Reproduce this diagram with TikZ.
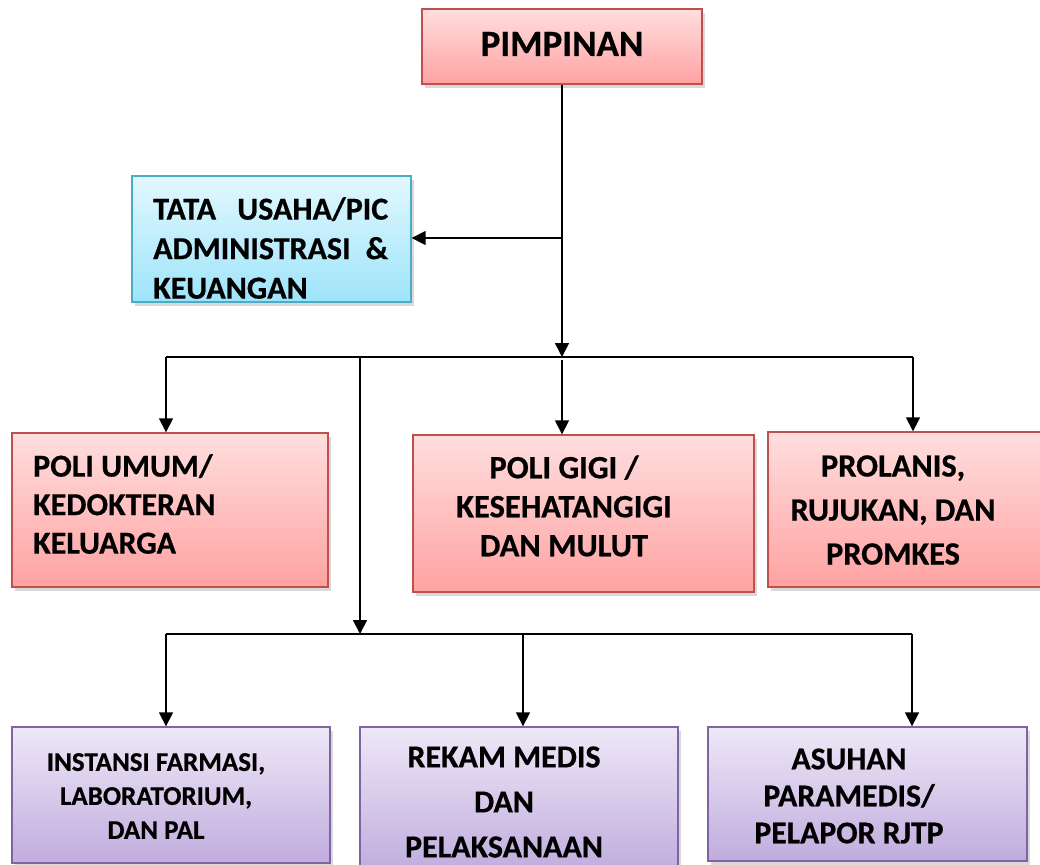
\documentclass[tikz,border=0pt]{standalone}
\usepackage{fontspec}
\setmainfont[BoldFeatures={FakeBold=0.6}]{Carlito}
\usetikzlibrary{arrows.meta,shadows}
\definecolor{pinkT}{RGB}{255,222,222}
\definecolor{pinkB}{RGB}{255,162,162}
\definecolor{redB}{RGB}{192,80,77}
\definecolor{cyanT}{RGB}{226,248,254}
\definecolor{cyanB}{RGB}{158,228,250}
\definecolor{cyanD}{RGB}{75,172,198}
\definecolor{purT}{RGB}{238,232,247}
\definecolor{purB}{RGB}{192,172,222}
\definecolor{purD}{RGB}{128,100,162}
\begin{document}
\begin{tikzpicture}[x=1pt,y=-1pt,
  box/.style={draw, line width=1.4pt, inner sep=0pt,
    drop shadow={opacity=0.3, shadow xshift=3pt, shadow yshift=-4pt}},
  pinkbox/.style={box, draw=redB, top color=pinkT, bottom color=pinkB},
  cyanbox/.style={box, draw=cyanD, top color=cyanT, bottom color=cyanB},
  purbox/.style={box, draw=purD, top color=purT, bottom color=purB},
  lbl/.style={inner sep=0pt},
  ln/.style={line width=1.7pt, black},
  arr/.style={ln, -{Triangle[length=14pt,width=14pt]}}]
\useasboundingbox (0,0) rectangle (1040,864);
% boxes
\node[pinkbox, minimum width=280pt, minimum height=75pt] (pim) at (562,46.5) {};
\node[cyanbox, minimum width=279pt, minimum height=126pt] (tu) at (271.5,239) {};
\node[pinkbox, minimum width=316pt, minimum height=154pt] (umum) at (170,510) {};
\node[pinkbox, minimum width=341pt, minimum height=157pt] (gigi) at (583.5,513.5) {};
\node[pinkbox, minimum width=277pt, minimum height=155pt] (prol) at (906.5,509.5) {};
\node[purbox, minimum width=318pt, minimum height=136pt] (inst) at (171,795) {};
\node[purbox, minimum width=318pt, minimum height=145pt] (rekam) at (519,799.5) {};
\node[purbox, minimum width=319pt, minimum height=134pt] (asuh) at (867.5,794) {};
% texts
\node[lbl, font=\fontsize{37}{40}\selectfont\bfseries] (pimt) at (562,44) {PIMPINAN};
\node[lbl, anchor=west, align=left, font=\fontsize{32}{39.5}\selectfont\bfseries] (tut) at (153,248)
  {\makebox[235pt][l]{TATA\hfill USAHA/PIC}\\\makebox[235pt][l]{ADMINISTRASI\hfill\&}\\KEUANGAN};
\node[lbl, anchor=west, align=left, font=\fontsize{32}{38.5}\selectfont\bfseries] (umumt) at (33,504)
  {POLI UMUM/\\KEDOKTERAN\\KELUARGA};
\node[lbl, align=center, font=\fontsize{32.5}{39}\selectfont\bfseries] (gigit) at (564,506)
  {POLI GIGI /\\KESEHATANGIGI\\DAN MULUT};
\node[lbl, align=center, font=\fontsize{32.4}{44}\selectfont\bfseries] (prolt) at (893,510)
  {PROLANIS,\\RUJUKAN, DAN\\PROMKES};
\node[lbl, align=center, font=\fontsize{27}{34}\selectfont\bfseries] (instt) at (156,796)
  {INSTANSI FARMASI,\\LABORATORIUM,\\DAN PAL};
\node[lbl, align=center, font=\fontsize{32}{45}\selectfont\bfseries] (rekamt) at (504,802)
  {REKAM MEDIS\\DAN\\PELAKSANAAN};
\node[lbl, align=center, font=\fontsize{31.7}{37}\selectfont\bfseries] (asuht) at (849,796)
  {ASUHAN\\PARAMEDIS/\\PELAPOR RJTP};
% connectors
\coordinate (j1) at (562,357);
\coordinate (jt) at (562,238);
\coordinate (bL) at (166,357);
\coordinate (bR) at (913,357);
\coordinate (m1) at (360,357);
\coordinate (m2) at (360,634);
\coordinate (cL) at (166,634);
\coordinate (cM) at (523,634);
\coordinate (cR) at (912,634);
\draw[arr] (pim.south) -- (j1);
\draw[arr] (jt) -- (tu.east |- jt);
\draw[ln] (bL) -- (bR);
\draw[arr] (bL) -- (bL |- umum.north);
\draw[arr] ([yshift=-3pt]j1) -- (j1 |- gigi.north);
\draw[arr] (bR) -- (bR |- prol.north);
\draw[arr] (m1) -- (m2);
\draw[ln] (cL) -- (cR);
\draw[arr] (cL) -- (cL |- inst.north);
\draw[arr] (cM) -- (cM |- rekam.north);
\draw[arr] (cR) -- (cR |- asuh.north);
\end{tikzpicture}
\end{document}
